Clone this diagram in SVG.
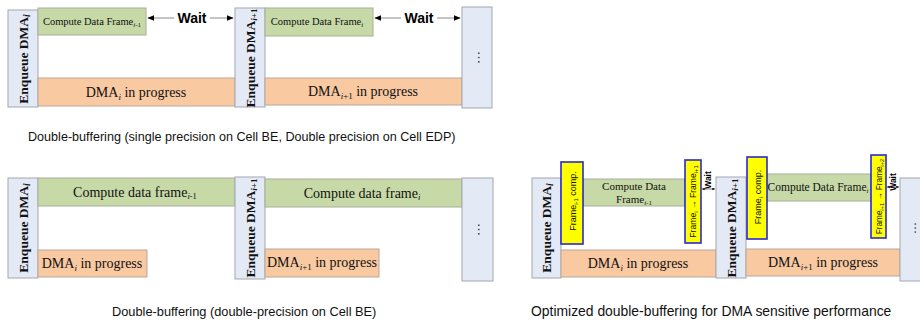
<svg xmlns="http://www.w3.org/2000/svg" width="920" height="325" viewBox="0 0 920 325">
<style>
.enq{fill:#e3eaf5;stroke:#a3a6b0;stroke-width:1}
.grn{fill:#c6d9a6;stroke:#a8ad9c;stroke-width:1}
.org{fill:#f9c9a2;stroke:#b8a89a;stroke-width:1}
.yel{fill:#ffff00;stroke:#2a2ad0;stroke-width:1.6}
.et{font-family:"Liberation Serif",serif;font-weight:bold;font-size:13.5px;fill:#111;text-anchor:middle}
.st{font-family:"Liberation Serif",serif;fill:#111;text-anchor:middle}
.yt{font-family:"Liberation Sans",Arial,sans-serif;fill:#111;text-anchor:middle}
.wt{font-family:"Liberation Sans",Arial,sans-serif;font-weight:bold;fill:#000;text-anchor:middle}
.cap{font-family:"Liberation Sans",Arial,sans-serif;fill:#111}
.sub{font-style:italic}
.arr{stroke:#8a8a8a;stroke-width:1;fill:none;marker-start:url(#ah);marker-end:url(#ah)}
.arrs{stroke:#555;stroke-width:0.8;fill:none;marker-start:url(#ahs);marker-end:url(#ahs)}
.dots{font-family:"Liberation Serif",serif;fill:#222;text-anchor:middle}
</style>
<defs>
<marker id="ah" viewBox="0 0 10 10" refX="9" refY="5" markerWidth="7" markerHeight="7" orient="auto-start-reverse" markerUnits="userSpaceOnUse">
<path d="M0,1 L10,5 L0,9 z" fill="#000"/>
</marker>
<marker id="ahs" viewBox="0 0 10 10" refX="9" refY="5" markerWidth="3" markerHeight="3" orient="auto-start-reverse" markerUnits="userSpaceOnUse">
<path d="M0,1 L10,5 L0,9 z" fill="#000"/>
</marker>
</defs>
<rect width="920" height="325" fill="#fff"/>

<!-- Panel 1 -->
<g id="p1-enq-i">
<rect class="enq" x="8" y="10" width="30" height="97"/>
<text class="et" transform="translate(27.5,59) rotate(-90)">Enqueue DMA<tspan class="sub" font-size="9.5" dy="2">i</tspan></text>
</g>
<g id="p1-comp-i-1">
<rect class="grn" x="38" y="8" width="108" height="27"/>
<text class="st" font-size="10.5" x="92" y="25">Compute Data Frame<tspan class="sub" font-size="7" dy="2">i</tspan><tspan font-size="7">-1</tspan></text>
</g>
<g id="p1-dma-i">
<rect class="org" x="38" y="78" width="197" height="28"/>
<text class="st" font-size="14" x="136" y="97">DMA<tspan class="sub" font-size="9" dy="3">i</tspan><tspan dy="-3"> in progress</tspan></text>
</g>
<g id="p1-enq-i1">
<rect class="enq" x="235" y="8" width="30" height="99"/>
<text class="et" transform="translate(254.5,58) rotate(-90)">Enqueue DMA<tspan class="sub" font-size="9" dy="2">i</tspan><tspan font-size="9">+1</tspan></text>
</g>
<g id="p1-comp-i">
<rect class="grn" x="265" y="8" width="108" height="28"/>
<text class="st" font-size="10.5" x="317" y="25">Compute Data Frame<tspan class="sub" font-size="7" dy="2">i</tspan></text>
</g>
<g id="p1-dma-i1">
<rect class="org" x="265" y="78" width="197" height="27"/>
<text class="st" font-size="14" x="363" y="96">DMA<tspan class="sub" font-size="9" dy="3">i</tspan><tspan font-size="9">+1</tspan><tspan dy="-3"> in progress</tspan></text>
</g>
<g id="p1-more">
<rect class="enq" x="462" y="7" width="30" height="101"/>
<text class="dots" font-size="13" transform="translate(478,57.5) rotate(90)">…</text>
</g>

<!-- Panel 2 -->
<g id="p2-enq-i">
<rect class="enq" x="8" y="178" width="30" height="100"/>
<text class="et" transform="translate(27.5,228) rotate(-90)">Enqueue DMA<tspan class="sub" font-size="9.5" dy="2">i</tspan></text>
</g>
<g id="p2-comp-i-1">
<rect class="grn" x="38" y="178" width="197" height="28"/>
<text class="st" font-size="14" x="135" y="197">Compute data frame<tspan class="sub" font-size="8.5" dy="2">i</tspan><tspan font-size="8.5">-1</tspan></text>
</g>
<g id="p2-dma-i">
<rect class="org" x="38" y="250" width="109" height="27"/>
<text class="st" font-size="14" x="92" y="268">DMA<tspan class="sub" font-size="9" dy="3">i</tspan><tspan dy="-3"> in progress</tspan></text>
</g>
<g id="p2-enq-i1">
<rect class="enq" x="235" y="177" width="30" height="102"/>
<text class="et" transform="translate(254.5,228) rotate(-90)">Enqueue DMA<tspan class="sub" font-size="9" dy="2">i</tspan><tspan font-size="9">+1</tspan></text>
</g>
<g id="p2-comp-i">
<rect class="grn" x="265" y="179" width="197" height="28"/>
<text class="st" font-size="14" x="362" y="198">Compute data frame<tspan class="sub" font-size="8.5" dy="2">i</tspan></text>
</g>
<g id="p2-dma-i1">
<rect class="org" x="265" y="249" width="114" height="28"/>
<text class="st" font-size="14" x="322" y="267">DMA<tspan class="sub" font-size="9" dy="3">i</tspan><tspan font-size="9">+1</tspan><tspan dy="-3"> in progress</tspan></text>
</g>
<g id="p2-more">
<rect class="enq" x="462" y="178" width="31" height="103"/>
<text class="dots" font-size="13" transform="translate(478,229.5) rotate(90)">…</text>
</g>

<!-- Panel 3 -->
<g id="p3-enq-i">
<rect class="enq" x="532" y="178" width="29" height="100"/>
<text class="et" transform="translate(551,228) rotate(-90)">Enqueue DMA<tspan class="sub" font-size="9.5" dy="2">i</tspan></text>
</g>
<g id="p3-dma-i">
<rect class="org" x="561" y="250" width="155" height="27"/>
<text class="st" font-size="14" x="638" y="268">DMA<tspan class="sub" font-size="9" dy="3">i</tspan><tspan dy="-3"> in progress</tspan></text>
</g>
<g id="p3-comp-i-1">
<rect class="grn" x="583" y="179" width="102" height="27"/>
<text class="st" font-size="11" x="634" y="190">Compute Data</text>
<text class="st" font-size="11" x="634" y="203">Frame<tspan class="sub" font-size="7" dy="2">i</tspan><tspan font-size="7">-1</tspan></text>
</g>
<g id="p3-frame-comp-i-1">
<rect class="yel" x="561" y="162" width="22" height="82"/>
<text class="yt" font-size="9" transform="translate(575.5,201) rotate(-90)">Frame<tspan font-size="6" dy="2">i-1</tspan><tspan dy="-2"> comp.</tspan></text>
</g>
<g id="p3-prefetch-i">
<rect class="yel" x="685" y="160" width="16" height="83"/>
<text class="yt" font-size="8.6" transform="translate(696,201.5) rotate(-90)">Frame<tspan font-size="5.8" dy="2">i</tspan><tspan dy="-2"> → Frame</tspan><tspan font-size="5.8" dy="2">i+1</tspan></text>
</g>
<g id="p3-enq-i1">
<rect class="enq" x="716" y="177" width="30" height="101"/>
<text class="et" transform="translate(735.5,228) rotate(-90)">Enqueue DMA<tspan class="sub" font-size="9" dy="2">i</tspan><tspan font-size="9">+1</tspan></text>
</g>
<g id="p3-dma-i1">
<rect class="org" x="746" y="249" width="154" height="27"/>
<text class="st" font-size="14" x="823" y="267">DMA<tspan class="sub" font-size="9" dy="3">i</tspan><tspan font-size="9">+1</tspan><tspan dy="-3"> in progress</tspan></text>
</g>
<g id="p3-comp-i">
<rect class="grn" x="767" y="174" width="104" height="27"/>
<text class="st" font-size="11.5" x="818" y="191">Compute Data Frame<tspan class="sub" font-size="7" dy="2">i</tspan></text>
</g>
<g id="p3-frame-comp-i">
<rect class="yel" x="747" y="157" width="20" height="82"/>
<text class="yt" font-size="9" transform="translate(760.5,197) rotate(-90)">Frame<tspan font-size="6" dy="2">i</tspan><tspan dy="-2"> comp.</tspan></text>
</g>
<g id="p3-prefetch-i1">
<rect class="yel" x="871" y="155" width="15" height="83"/>
<text class="yt" font-size="8.2" transform="translate(881.5,196.5) rotate(-90)">Frame<tspan font-size="5.6" dy="2">i+1</tspan><tspan dy="-2"> → Frame</tspan><tspan font-size="5.6" dy="2">i+2</tspan></text>
</g>
<g id="p3-more">
<rect class="enq" x="900" y="178" width="30" height="103"/>
<text class="dots" font-size="12" transform="translate(916,228) rotate(-90)">…</text>
</g>

<!-- Connectors -->
<g id="connectors">
<line class="arr" x1="148" y1="18" x2="233" y2="18"/>
<line class="arr" x1="375" y1="18" x2="460" y2="18"/>
<line class="arrs" x1="702" y1="189" x2="715" y2="189"/>
<line class="arrs" x1="887" y1="187" x2="899" y2="187"/>
</g>
<g id="wait-labels">
<rect x="174" y="10" width="36" height="16" fill="#fff"/>
<text class="wt" font-size="14" x="192" y="23">Wait</text>
<rect x="401" y="10" width="36" height="16" fill="#fff"/>
<text class="wt" font-size="14" x="419" y="23">Wait</text>
<text class="wt" font-size="8.5" transform="translate(711,180) rotate(-90)">Wait</text>
<text class="wt" font-size="8.5" transform="translate(896,182) rotate(-90)">Wait</text>
</g>

<!-- Captions -->
<text class="cap" font-size="12.6" x="28" y="141">Double-buffering  (single precision on Cell BE, Double precision on Cell EDP)</text>
<text class="cap" font-size="12.8" x="112" y="316">Double-buffering (double-precision on Cell BE)</text>
<text class="cap" font-size="13.9" x="531" y="316">Optimized double-buffering for DMA sensitive performance</text>
</svg>
